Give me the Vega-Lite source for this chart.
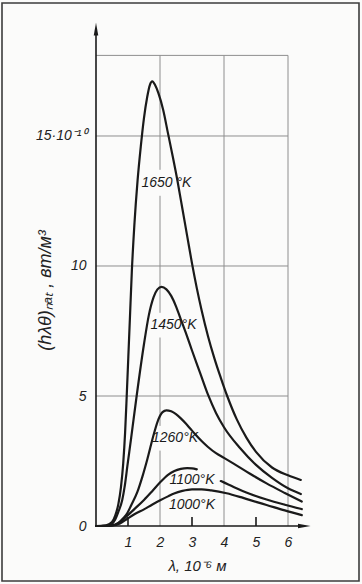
{
  "$schema": "https://vega.github.io/schema/vega-lite/v6.json",
  "width": 357,
  "height": 578,
  "autosize": {"type": "none"},
  "padding": {"left": 2, "top": 3, "right": 3, "bottom": 3},
  "background": "#fbfbfa",
  "config": {
    "view": {"stroke": "#3c3c3c", "strokeWidth": 1.6},
    "font": "Liberation Sans",
    "axis": {"grid": false, "domain": false, "ticks": false}
  },
  "datasets": {
    "grid": [
      {"x": 2, "x2": 2, "y": 0, "y2": 2.9},
      {"x": 2, "x2": 2, "y": 3.85, "y2": 7.25},
      {"x": 2, "x2": 2, "y": 8.2, "y2": 12.7},
      {"x": 2, "x2": 2, "y": 13.7, "y2": 18.1},
      {"x": 4, "x2": 4, "y": 0, "y2": 18.1},
      {"x": 6, "x2": 6, "y": 0, "y2": 18.1},
      {"x": 0, "x2": 6, "y": 5, "y2": 5},
      {"x": 0, "x2": 6, "y": 10, "y2": 10},
      {"x": 0, "x2": 6, "y": 15, "y2": 15},
      {"x": 0, "x2": 6, "y": 18.1, "y2": 18.1}
    ],
    "axes": [
      {"x": 0, "x2": 0, "y": 0, "y2": 19.0},
      {"x": 0, "x2": 6.4, "y": 0, "y2": 0},
      {"x": 1, "x2": 1, "y": 0, "y2": 0.35},
      {"x": 3, "x2": 3, "y": 0, "y2": 0.35},
      {"x": 5, "x2": 5, "y": 0, "y2": 0.35}
    ],
    "arrows": [
      {"x": 0, "y": 19.1, "dir": "up"},
      {"x": 6.5, "y": 0, "dir": "right"}
    ],
    "curves": [
      {"seg": "1650", "lam": 0, "val": 0},
      {"seg": "1650", "lam": 0.3, "val": 0.02},
      {"seg": "1650", "lam": 0.5, "val": 0.15},
      {"seg": "1650", "lam": 0.6, "val": 0.4},
      {"seg": "1650", "lam": 0.7, "val": 0.85},
      {"seg": "1650", "lam": 0.78, "val": 1.5},
      {"seg": "1650", "lam": 0.85, "val": 2.4},
      {"seg": "1650", "lam": 0.91, "val": 3.6},
      {"seg": "1650", "lam": 0.96, "val": 5.0},
      {"seg": "1650", "lam": 1.01, "val": 6.5},
      {"seg": "1650", "lam": 1.06, "val": 8.0},
      {"seg": "1650", "lam": 1.12, "val": 9.8},
      {"seg": "1650", "lam": 1.2, "val": 11.6},
      {"seg": "1650", "lam": 1.3, "val": 13.3},
      {"seg": "1650", "lam": 1.4, "val": 14.6},
      {"seg": "1650", "lam": 1.5, "val": 15.7},
      {"seg": "1650", "lam": 1.6, "val": 16.5},
      {"seg": "1650", "lam": 1.68, "val": 16.95},
      {"seg": "1650", "lam": 1.76, "val": 17.1},
      {"seg": "1650", "lam": 1.85, "val": 16.95},
      {"seg": "1650", "lam": 1.95, "val": 16.65},
      {"seg": "1650", "lam": 2.1, "val": 16.0},
      {"seg": "1650", "lam": 2.25, "val": 15.1},
      {"seg": "1650", "lam": 2.4, "val": 14.2},
      {"seg": "1650", "lam": 2.55, "val": 13.25},
      {"seg": "1650", "lam": 2.7, "val": 12.2},
      {"seg": "1650", "lam": 2.85, "val": 11.15},
      {"seg": "1650", "lam": 3.0, "val": 10.1},
      {"seg": "1650", "lam": 3.15, "val": 9.15},
      {"seg": "1650", "lam": 3.3, "val": 8.3},
      {"seg": "1650", "lam": 3.5, "val": 7.3},
      {"seg": "1650", "lam": 3.7, "val": 6.45},
      {"seg": "1650", "lam": 3.9, "val": 5.7},
      {"seg": "1650", "lam": 4.1, "val": 5.0},
      {"seg": "1650", "lam": 4.4, "val": 4.1},
      {"seg": "1650", "lam": 4.7, "val": 3.4},
      {"seg": "1650", "lam": 5.0, "val": 2.85},
      {"seg": "1650", "lam": 5.5, "val": 2.25},
      {"seg": "1650", "lam": 6.0, "val": 1.95},
      {"seg": "1650", "lam": 6.4, "val": 1.77},

      {"seg": "1450", "lam": 0, "val": 0},
      {"seg": "1450", "lam": 0.4, "val": 0.02},
      {"seg": "1450", "lam": 0.6, "val": 0.25},
      {"seg": "1450", "lam": 0.7, "val": 0.55},
      {"seg": "1450", "lam": 0.82, "val": 1.0},
      {"seg": "1450", "lam": 0.9, "val": 1.55},
      {"seg": "1450", "lam": 0.98, "val": 2.3},
      {"seg": "1450", "lam": 1.1, "val": 3.4},
      {"seg": "1450", "lam": 1.27, "val": 5.0},
      {"seg": "1450", "lam": 1.5, "val": 7.0},
      {"seg": "1450", "lam": 1.65, "val": 8.1},
      {"seg": "1450", "lam": 1.8, "val": 8.8},
      {"seg": "1450", "lam": 1.92, "val": 9.1},
      {"seg": "1450", "lam": 2.05, "val": 9.2},
      {"seg": "1450", "lam": 2.2, "val": 9.1},
      {"seg": "1450", "lam": 2.35, "val": 8.85},
      {"seg": "1450", "lam": 2.5, "val": 8.45},
      {"seg": "1450", "lam": 2.65, "val": 7.95},
      {"seg": "1450", "lam": 2.83, "val": 7.35},
      {"seg": "1450", "lam": 3.0, "val": 6.75},
      {"seg": "1450", "lam": 3.25, "val": 5.9},
      {"seg": "1450", "lam": 3.5, "val": 5.05},
      {"seg": "1450", "lam": 3.75, "val": 4.35},
      {"seg": "1450", "lam": 4.0, "val": 3.8},
      {"seg": "1450", "lam": 4.5, "val": 3.0},
      {"seg": "1450", "lam": 5.0, "val": 2.35},
      {"seg": "1450", "lam": 5.5, "val": 1.85},
      {"seg": "1450", "lam": 6.0, "val": 1.45},
      {"seg": "1450", "lam": 6.4, "val": 1.23},

      {"seg": "1260", "lam": 0, "val": 0},
      {"seg": "1260", "lam": 0.5, "val": 0.03},
      {"seg": "1260", "lam": 0.7, "val": 0.12},
      {"seg": "1260", "lam": 0.85, "val": 0.3},
      {"seg": "1260", "lam": 0.98, "val": 0.5},
      {"seg": "1260", "lam": 1.1, "val": 0.8},
      {"seg": "1260", "lam": 1.29, "val": 1.3},
      {"seg": "1260", "lam": 1.45, "val": 1.9},
      {"seg": "1260", "lam": 1.6, "val": 2.55},
      {"seg": "1260", "lam": 1.81, "val": 3.55},
      {"seg": "1260", "lam": 1.95, "val": 4.1},
      {"seg": "1260", "lam": 2.08, "val": 4.38},
      {"seg": "1260", "lam": 2.2, "val": 4.45},
      {"seg": "1260", "lam": 2.35, "val": 4.41},
      {"seg": "1260", "lam": 2.5, "val": 4.3},
      {"seg": "1260", "lam": 2.65, "val": 4.14},
      {"seg": "1260", "lam": 2.8, "val": 3.95},
      {"seg": "1260", "lam": 2.95, "val": 3.74},
      {"seg": "1260", "lam": 3.1, "val": 3.53},
      {"seg": "1260", "lam": 3.3, "val": 3.27},
      {"seg": "1260", "lam": 3.5, "val": 3.04},
      {"seg": "1260", "lam": 3.75, "val": 2.8},
      {"seg": "1260", "lam": 4.0, "val": 2.62},
      {"seg": "1260", "lam": 4.3, "val": 2.4},
      {"seg": "1260", "lam": 4.8, "val": 2.02},
      {"seg": "1260", "lam": 5.33, "val": 1.64},
      {"seg": "1260", "lam": 5.9, "val": 1.27},
      {"seg": "1260", "lam": 6.43, "val": 0.94},

      {"seg": "1100a", "lam": 0, "val": 0},
      {"seg": "1100a", "lam": 0.5, "val": 0.02},
      {"seg": "1100a", "lam": 0.75, "val": 0.15},
      {"seg": "1100a", "lam": 0.98, "val": 0.4},
      {"seg": "1100a", "lam": 1.2, "val": 0.65},
      {"seg": "1100a", "lam": 1.5, "val": 1.0},
      {"seg": "1100a", "lam": 1.75, "val": 1.33},
      {"seg": "1100a", "lam": 2.02, "val": 1.7},
      {"seg": "1100a", "lam": 2.25, "val": 1.97},
      {"seg": "1100a", "lam": 2.45, "val": 2.12},
      {"seg": "1100a", "lam": 2.65, "val": 2.2},
      {"seg": "1100a", "lam": 2.85, "val": 2.23},
      {"seg": "1100a", "lam": 3.0, "val": 2.22},
      {"seg": "1100a", "lam": 3.15, "val": 2.18},
      {"seg": "1100b", "lam": 3.9, "val": 1.73},
      {"seg": "1100b", "lam": 4.3, "val": 1.5},
      {"seg": "1100b", "lam": 4.8, "val": 1.24},
      {"seg": "1100b", "lam": 5.33, "val": 1.02},
      {"seg": "1100b", "lam": 5.9, "val": 0.82},
      {"seg": "1100b", "lam": 6.43, "val": 0.65},

      {"seg": "1000", "lam": 0, "val": 0},
      {"seg": "1000", "lam": 0.5, "val": 0.02},
      {"seg": "1000", "lam": 0.75, "val": 0.1},
      {"seg": "1000", "lam": 0.98, "val": 0.28},
      {"seg": "1000", "lam": 1.2, "val": 0.45},
      {"seg": "1000", "lam": 1.5, "val": 0.64},
      {"seg": "1000", "lam": 1.75, "val": 0.82},
      {"seg": "1000", "lam": 2.02, "val": 1.0},
      {"seg": "1000", "lam": 2.25, "val": 1.14},
      {"seg": "1000", "lam": 2.44, "val": 1.25},
      {"seg": "1000", "lam": 2.7, "val": 1.35},
      {"seg": "1000", "lam": 3.0, "val": 1.41},
      {"seg": "1000", "lam": 3.3, "val": 1.41},
      {"seg": "1000", "lam": 3.6, "val": 1.37},
      {"seg": "1000", "lam": 4.08, "val": 1.26},
      {"seg": "1000", "lam": 4.6, "val": 1.08},
      {"seg": "1000", "lam": 5.0, "val": 0.93},
      {"seg": "1000", "lam": 5.33, "val": 0.81},
      {"seg": "1000", "lam": 5.9, "val": 0.6},
      {"seg": "1000", "lam": 6.43, "val": 0.42}
    ],
    "labels": [
      {"lam": 2.2, "val": 13.2, "text": "1650 °K"},
      {"lam": 2.42, "val": 7.73, "text": "1450°K"},
      {"lam": 2.47, "val": 3.38, "text": "1260°K"},
      {"lam": 3.0, "val": 1.77, "text": "1100°K"},
      {"lam": 3.0, "val": 0.81, "text": "1000°K"}
    ]
  },
  "layer": [
    {
      "data": {"name": "grid"},
      "mark": {"type": "rule", "stroke": "#8e8e8e", "strokeWidth": 1},
      "encoding": {
        "x": {
          "field": "x", "type": "quantitative",
          "scale": {"domain": [-2.9375, 8.21875], "nice": false, "zero": false},
          "axis": {
            "orient": "bottom", "offset": -55, "domain": false, "ticks": false, "tickSize": 0, "grid": false,
            "values": [1, 2, 3, 4, 5, 6], "labelPadding": 9, "labelFontSize": 14, "labelFontStyle": "italic",
            "labelColor": "#222", "labelFont": "Liberation Sans",
            "title": "λ, 10⁻⁶ м", "titleX": 195, "titleY": 39, "titleAlign": "center", "titleBaseline": "middle",
            "titleFontSize": 15, "titleFontStyle": "italic", "titleFontWeight": "normal", "titleColor": "#222",
            "titleFont": "Liberation Sans"
          }
        },
        "x2": {"field": "x2"},
        "y": {
          "field": "y", "type": "quantitative",
          "scale": {"domain": [-2.115, 20.115], "nice": false, "zero": false},
          "axis": {
            "orient": "left", "offset": -94, "domain": false, "ticks": false, "tickSize": 0, "grid": false,
            "values": [0, 5, 10, 15], "labelPadding": 10, "labelFontSize": 14, "labelFontStyle": "italic",
            "labelColor": "#222", "labelFont": "Liberation Sans",
            "labelExpr": "datum.value == 15 ? '15·10⁻¹⁰' : datum.label",
            "title": "(hλθ)ₙₐₜ , вт/м³", "titleX": -51, "titleY": 287, "titleAngle": -90,
            "titleAlign": "center", "titleBaseline": "middle",
            "titleFontSize": 18, "titleFontStyle": "italic", "titleFontWeight": "normal", "titleColor": "#222",
            "titleFont": "Liberation Sans"
          }
        },
        "y2": {"field": "y2"}
      }
    },
    {
      "data": {"name": "axes"},
      "mark": {"type": "rule", "stroke": "#1a1a1a", "strokeWidth": 1.6},
      "encoding": {
        "x": {"field": "x", "type": "quantitative", "scale": {"domain": [-2.9375, 8.21875], "nice": false, "zero": false}},
        "x2": {"field": "x2"},
        "y": {"field": "y", "type": "quantitative", "scale": {"domain": [-2.115, 20.115], "nice": false, "zero": false}},
        "y2": {"field": "y2"}
      }
    },
    {
      "data": {"name": "arrows"},
      "mark": {"type": "point", "filled": true, "color": "#1a1a1a", "opacity": 1, "size": 144},
      "encoding": {
        "x": {"field": "x", "type": "quantitative", "scale": {"domain": [-2.9375, 8.21875], "nice": false, "zero": false}},
        "y": {"field": "y", "type": "quantitative", "scale": {"domain": [-2.115, 20.115], "nice": false, "zero": false}},
        "shape": {
          "field": "dir", "type": "nominal",
          "scale": {"domain": ["up", "right"], "range": ["M0,-1.1L0.38,1L-0.38,1Z", "M1.1,0L-1,-0.38L-1,0.38Z"]},
          "legend": null
        }
      }
    },
    {
      "data": {"name": "curves"},
      "mark": {"type": "line", "stroke": "#1a1a1a", "strokeWidth": 2.2, "interpolate": "monotone", "strokeCap": "round", "strokeJoin": "round"},
      "encoding": {
        "x": {"field": "lam", "type": "quantitative", "scale": {"domain": [-2.9375, 8.21875], "nice": false, "zero": false}},
        "y": {"field": "val", "type": "quantitative", "scale": {"domain": [-2.115, 20.115], "nice": false, "zero": false}},
        "detail": {"field": "seg", "type": "nominal"},
        "order": {"field": "lam", "type": "quantitative"}
      }
    },
    {
      "data": {"name": "labels"},
      "mark": {"type": "text", "font": "Liberation Sans", "fontSize": 14, "fontStyle": "italic", "color": "#1a1a1a", "align": "center", "baseline": "middle"},
      "encoding": {
        "x": {"field": "lam", "type": "quantitative", "scale": {"domain": [-2.9375, 8.21875], "nice": false, "zero": false}},
        "y": {"field": "val", "type": "quantitative", "scale": {"domain": [-2.115, 20.115], "nice": false, "zero": false}},
        "text": {"field": "text", "type": "nominal"}
      }
    }
  ]
}
